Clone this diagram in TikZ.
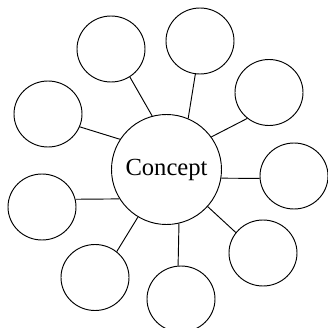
\documentclass[tikz,border=0pt]{standalone}
\usepackage{fontspec}
\setmainfont{Liberation Serif}
\usepackage{tikz}
\usetikzlibrary{shapes.geometric}
\tikzset{
	bubble/.style={draw, ellipse, line width=0.8pt, inner sep=0pt, minimum width=2.04cm, minimum height=1.98cm},
	concept/.style={draw, circle, line width=0.8pt, inner sep=0pt, minimum size=3.3cm, font=\fontsize{21}{25}\selectfont},
	spoke/.style={line width=0.8pt}
}

\begin{document}
\begin{tikzpicture}[x=0.03cm, y=-0.03cm]
		%%%%% START %%%%%
		
		\useasboundingbox (0, 0) rectangle (327, 328);
		
		\node[concept] (concept) at (166.5, 169.5) {Concept};
		
		\node[bubble] (b1) at (111, 49) {};
		\node[bubble] (b2) at (200, 41) {};
		\node[bubble] (b3) at (269, 92.5) {};
		\node[bubble] (b4) at (294, 176) {};
		\node[bubble] (b5) at (263, 253) {};
		\node[bubble] (b6) at (181, 299) {};
		\node[bubble] (b7) at (95, 277.5) {};
		\node[bubble] (b8) at (42, 207) {};
		\node[bubble] (b9) at (48, 114) {};
		
		\draw[spoke] (concept.105) -- (b1.-56);
		\draw[spoke] (concept.67) -- (b2.-98);
		\draw[spoke] (concept.36) -- (b3.230);
		\draw[spoke] (concept.-9) -- (b4.184);
		\draw[spoke] (concept.-42) -- (b5.143);
		\draw[spoke] (concept.-77) -- (b6.95);
		\draw[spoke] (concept.239) -- (b7.50);
		\draw[spoke] (concept.212) -- (b8.13);
		\draw[spoke] (concept.147) -- (b9.-22);
		
		%%%%% END %%%%%
\end{tikzpicture}
\end{document}
